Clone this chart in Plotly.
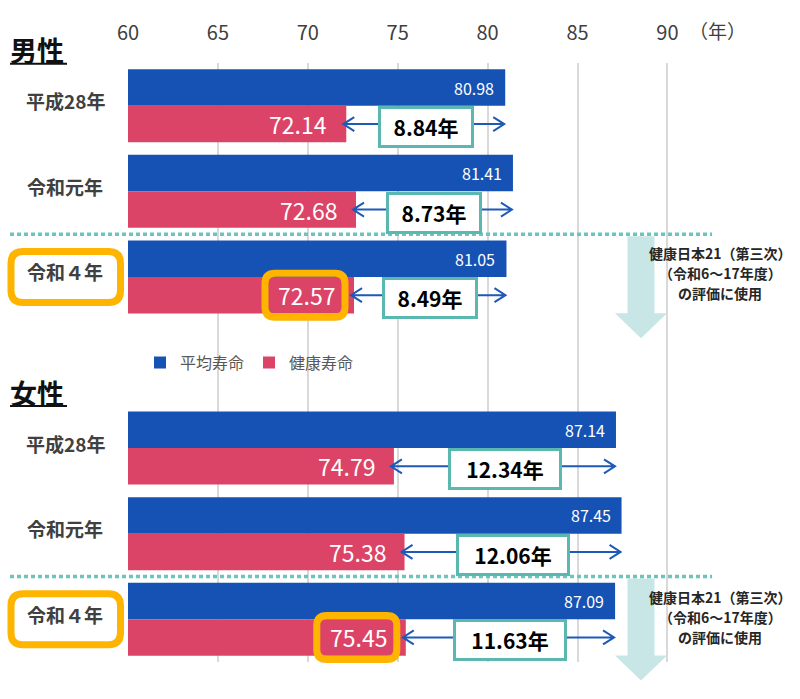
import plotly.graph_objects as go

# ---------------- data ----------------
years = ["平成28年", "令和元年", "令和４年"]
male_avg = [80.98, 81.41, 81.05]
male_healthy = [72.14, 72.68, 72.57]
male_gap_labels = ["8.84年", "8.73年", "8.49年"]
female_avg = [87.14, 87.45, 87.09]
female_healthy = [74.79, 75.38, 75.45]
female_gap_labels = ["12.34年", "12.06年", "11.63年"]
tick_vals = [60, 65, 70, 75, 80, 85, 90]
series_names = ["平均寿命", "健康寿命"]
note_lines = ["健康日本21（第三次）", "（令和6～17年度）", "の評価に使用"]

male_rows = [0, 1, 2]
female_rows = [4, 5, 6]

# ---------------- layout geometry ----------------
W, H = 800, 699
ML, MR, MT, MB = 128, 0, 63, 37
PW, PH = W - ML - MR, H - MT - MB
PX_PER_YEAR = 17.98
X0 = 60
X1 = X0 + PW / PX_PER_YEAR
Y_TOP, Y_BOT = -0.5, 6.5
ROW_PX = PH / (Y_BOT - Y_TOP)
BW = 36.5 / ROW_PX  # bar thickness in row units

BLUE = "#1652b3"
PINK = "#db4467"
TEAL = "#5bb8b1"
ORANGE = "#FFB400"
FONT = "Noto Sans CJK JP"


def x_px(v):
    return ML + (v - X0) * PX_PER_YEAR


def y_px(r):
    return MT + (r - Y_TOP) * ROW_PX


def pxx(p):  # pixel x -> paper
    return (p - ML) / PW


def pxy(p):  # pixel y -> paper
    return (H - MB - p) / PH


def rounded_rect(x0, y0, x1, y1, r):
    pts = [
        ("M", (x0 + r, y0)), ("L", (x1 - r, y0)), ("Q", (x1, y0), (x1, y0 + r)),
        ("L", (x1, y1 - r)), ("Q", (x1, y1), (x1 - r, y1)),
        ("L", (x0 + r, y1)), ("Q", (x0, y1), (x0, y1 - r)),
        ("L", (x0, y0 + r)), ("Q", (x0, y0), (x0 + r, y0)),
    ]
    out = []
    for seg in pts:
        cmd = seg[0]
        coords = " ".join(f"{pxx(px):.5f},{pxy(py):.5f}" for px, py in seg[1:])
        out.append(f"{cmd} {coords}")
    return " ".join(out) + " Z"


rows = male_rows + female_rows
avg = male_avg + female_avg
healthy = male_healthy + female_healthy
gap_labels = male_gap_labels + female_gap_labels

fig = go.Figure()
fig.add_trace(go.Bar(
    orientation="h", y=rows, x=avg, width=BW, offset=-BW,
    marker=dict(color=BLUE, line=dict(width=0)), name=series_names[0],
    hoverinfo="skip",
))
fig.add_trace(go.Bar(
    orientation="h", y=rows, x=healthy, width=BW, offset=0,
    marker=dict(color=PINK, line=dict(width=0)), name=series_names[1],
    hoverinfo="skip",
))

shapes = []
annotations = []

# value labels inside bars
for r, a, h in zip(rows, avg, healthy):
    annotations.append(dict(x=a, y=r - BW / 2, xref="x", yref="y", text=f"{a:.2f}",
                            showarrow=False, xanchor="right", yanchor="middle", xshift=-9,
                            font=dict(family=FONT, size=16, color="white")))
    annotations.append(dict(x=h, y=r + BW / 2, xref="x", yref="y", text=f"{h:.2f}",
                            showarrow=False, xanchor="right", yanchor="middle", xshift=-17,
                            font=dict(family=FONT, size=23, color="white")))

# gap arrows and boxes
hx = 11 / PX_PER_YEAR
hy = 7 / ROW_PX
for i, (r, a, h, lab) in enumerate(zip(rows, avg, healthy, gap_labels)):
    y = r + BW / 2
    xl = h - 3 / PX_PER_YEAR
    xr = a - 1 / PX_PER_YEAR
    path = (f"M {xl},{y} L {xr},{y} "
            f"M {xl + hx},{y - hy} L {xl},{y} L {xl + hx},{y + hy} "
            f"M {xr - hx},{y - hy} L {xr},{y} L {xr - hx},{y + hy}")
    shapes.append(dict(type="path", path=path, xref="x", yref="y",
                       line=dict(color="#1d5ab8", width=2), layer="above"))
    wide = len(lab) > 5
    annotations.append(dict(x=(a + h) / 2, y=y, xref="x", yref="y", text=f"<b>{lab}</b>",
                            showarrow=False, xanchor="center", yanchor="middle", yshift=-3,
                            width=104 if wide else 86, height=32,
                            bgcolor="white", bordercolor=TEAL, borderwidth=3, borderpad=2,
                            font=dict(family=FONT, size=21, color="black")))

# year labels on the left
for r, name in zip(rows, years + years):
    annotations.append(dict(x=pxx(65), y=r, xref="paper", yref="y", text=f"<b>{name}</b>",
                            showarrow=False, xanchor="center", yanchor="middle", yshift=5,
                            font=dict(family=FONT, size=19, color="#404040")))

# section titles
for r_first, title in [(male_rows[0], "男性"), (female_rows[0], "女性")]:
    ty = y_px(r_first) - 56
    annotations.append(dict(x=pxx(8), y=pxy(ty), xref="paper", yref="paper",
                            text=f"<b>{title}</b>", showarrow=False,
                            xanchor="left", yanchor="middle",
                            font=dict(family=FONT, size=27, color="#111111")))
    shapes.append(dict(type="line", xref="paper", yref="paper",
                       x0=pxx(10), x1=pxx(67), y0=pxy(ty + 14), y1=pxy(ty + 14),
                       line=dict(color="#111111", width=2)))

# unit label
annotations.append(dict(x=pxx(717), y=pxy(30), xref="paper", yref="paper", text="（年）",
                        showarrow=False, xanchor="center", yanchor="middle",
                        font=dict(family=FONT, size=19, color="#404040")))

# separators, big arrows, notes, highlight boxes
for k, (rows_sec, healthy_sec) in enumerate([(male_rows, male_healthy),
                                             (female_rows, female_healthy)]):
    sep = y_px(rows_sec[1] + 0.5)
    shapes.append(dict(type="line", xref="paper", yref="paper",
                       x0=pxx(10), x1=pxx(712), y0=pxy(sep), y1=pxy(sep),
                       line=dict(color="#6cc4bd", width=3.5, dash="4px,3px"), layer="above"))
    cx = 641
    top = sep + 2
    hs = top + 77
    tip = top + 102
    pts = [(cx - 13.5, top), (cx + 13.5, top), (cx + 13.5, hs), (cx + 26, hs), (cx, tip),
           (cx - 26, hs), (cx - 13.5, hs)]
    path = "M " + " L ".join(f"{pxx(a):.5f},{pxy(b):.5f}" for a, b in pts) + " Z"
    shapes.append(dict(type="path", path=path, xref="paper", yref="paper",
                       fillcolor="#c8e6e6", line=dict(width=0), layer="below"))
    for j, line in enumerate(note_lines):
        annotations.append(dict(x=pxx(720), y=pxy(sep + 19 + 2 * k + 20 * j),
                                xref="paper", yref="paper",
                                text=f"<b>{line}</b>", showarrow=False,
                                xanchor="center", yanchor="middle",
                                font=dict(family=FONT, size=14, color="#262626")))
    # highlight: year label of latest row
    rc = y_px(rows_sec[2])
    shapes.append(dict(type="path", xref="paper", yref="paper",
                       path=rounded_rect(11, rc - 25.5, 120.5, rc + 25.5, 12),
                       line=dict(color=ORANGE, width=7), fillcolor="rgba(0,0,0,0)"))
    # highlight: healthy value of latest row
    vc = y_px(rows_sec[2] + BW / 2)
    vr = x_px(healthy_sec[2]) - 9
    shapes.append(dict(type="path", xref="paper", yref="paper",
                       path=rounded_rect(vr - 80, vc - 22, vr, vc + 22, 10),
                       line=dict(color=ORANGE, width=7), fillcolor="rgba(0,0,0,0)"))

fig.update_layout(
    width=W, height=H,
    margin=dict(l=ML, r=MR, t=MT, b=MB, pad=0),
    paper_bgcolor="white", plot_bgcolor="white",
    barmode="overlay",
    font=dict(family=FONT, color="#404040"),
    xaxis=dict(range=[X0, X1], side="top", tickvals=tick_vals, ticks="",
               tickfont=dict(family=FONT, size=20, color="#404040"),
               showgrid=True, gridcolor="#d9d9d9", gridwidth=1.5,
               zeroline=False, showline=False, ticklabelstandoff=18, fixedrange=True),
    yaxis=dict(range=[Y_BOT, Y_TOP], showticklabels=False, showgrid=False,
               zeroline=False, showline=False, fixedrange=True),
    showlegend=True,
    legend=dict(orientation="h", x=pxx(140), y=pxy(y_px(3)), xanchor="left",
                yanchor="middle", bgcolor="rgba(0,0,0,0)",
                font=dict(family=FONT, size=16, color="#595959"), traceorder="normal"),
    shapes=shapes,
    annotations=annotations,
)

fig.write_html("out.html", config={"displayModeBar": False},
               post_script="document.body.style.margin='0';")
